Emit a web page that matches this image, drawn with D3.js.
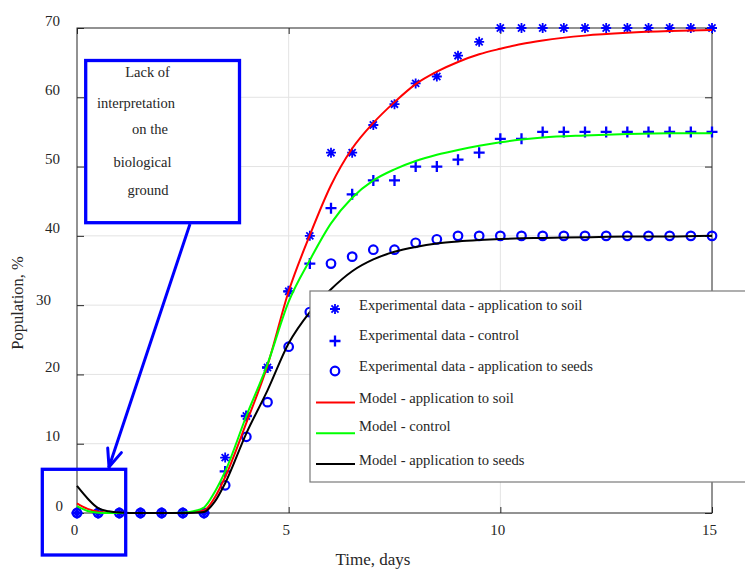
<!DOCTYPE html>
<html>
<head>
<meta charset="utf-8">
<script src="https://cdn.jsdelivr.net/npm/d3@7/dist/d3.min.js"></script>
<style>
  html, body { margin: 0; padding: 0; background: #fff; }
  svg { display: block; }
  text { font-family: "Liberation Serif", "Times New Roman", serif; fill: #262626; }
</style>
</head>
<body>
<svg id="chart" width="745" height="569"></svg>
<script>
// ---------- data ----------
const expDays = [0,0.5,1,1.5,2,2.5,3,3.5,4,4.5,5,5.5,6,6.5,7,7.5,8,8.5,9,9.5,10,10.5,11,11.5,12,12.5,13,13.5,14,14.5,15];
const expSoil    = [0,0,0,0,0,0,0, 8,14,21,32,40,52,52,56,59,62,63,66,68,70,70,70,70,70,70,70,70,70,70,70];
const expControl = [0,0,0,0,0,0,0, 6,14,21,32,36,44,46,48,48,50,50,51,52,54,54,55,55,55,55,55,55,55,55,55];
const expSeeds   = [0,0,0,0,0,0,0, 4,11,16,24,29,36,37,38,38,39,39.5,40,40,40,40,40,40,40,40,40,40,40,40,40];

const modelDays    = [0,0.25,0.5,0.75,1,1.5,2,2.5,2.75,3,3.25,3.5,4,4.5,5,5.5,6,6.5,7,7.5,8,8.5,9,9.5,10,10.5,11,12,13,14,15];
const modelSoil    = [1.4,0.6,0.2,0.05,0,0,0,0,0.1,0.35,2.2,5.2,13,21.3,32,40.1,47.3,52.6,56.3,59.3,61.9,63.7,65.1,66.2,67.0,67.7,68.2,68.9,69.3,69.55,69.7];
const modelControl = [1.0,0.3,0.05,0,0,0,0,0.05,0.25,0.8,3,6.0,14,21.5,30.5,36.5,41.8,45.5,48,49.6,50.8,51.7,52.4,53,53.5,53.9,54.2,54.5,54.7,54.8,54.8];
const modelSeeds   = [3.9,2.1,0.7,0.25,0.08,0,0,0,0.03,0.15,1.6,4.3,11.5,17.7,24.5,29,32.3,34.9,36.6,37.7,38.4,38.9,39.2,39.4,39.55,39.65,39.7,39.8,39.9,39.9,40];

const xTicks = [0,5,10,15];
const yTicks = [0,10,20,30,40,50,60,70];

const legendLabels = [
  "Experimental data - application to soil",
  "Experimental data - control",
  "Experimental data - application to seeds",
  "Model - application to soil",
  "Model - control",
  "Model - application to seeds"
];
const noteLines = ["Lack of", "interpretation", "on the", "biological", "ground"];

// ---------- layout ----------
const svg = d3.select("#chart");
const L = 77, T = 28, R = 712, B = 513;
const x = d3.scaleLinear().domain([0,15]).range([L,R]);
const y = d3.scaleLinear().domain([0,70]).range([B,T]);
const blue = "#0000ff";

// grid
const grid = svg.append("g");
grid.selectAll("line.gx").data(xTicks.filter(d => d > 0 && d < 15)).join("line")
  .attr("x1", d => x(d)).attr("x2", d => x(d)).attr("y1", T).attr("y2", B)
  .attr("stroke", "#e3e3e3").attr("stroke-width", 1);
grid.selectAll("line.gy").data(yTicks.filter(d => d > 0 && d < 70)).join("line")
  .attr("x1", L).attr("x2", R).attr("y1", d => y(d)).attr("y2", d => y(d))
  .attr("stroke", "#e3e3e3").attr("stroke-width", 1);

// axes via d3 axes (inner ticks)
const axCol = "#262626";
function styleAxis(g) {
  g.select(".domain").remove();
  g.selectAll(".tick line").attr("stroke", axCol);
  g.selectAll(".tick text").remove();
}
svg.append("g").attr("transform", `translate(0,${B})`)
  .call(d3.axisBottom(x).tickValues(xTicks).tickSize(-6)).call(styleAxis);
svg.append("g").attr("transform", `translate(0,${T})`)
  .call(d3.axisTop(x).tickValues(xTicks).tickSize(-6)).call(styleAxis);
svg.append("g").attr("transform", `translate(${L},0)`)
  .call(d3.axisLeft(y).tickValues(yTicks).tickSize(-7)).call(styleAxis);
svg.append("g").attr("transform", `translate(${R},0)`)
  .call(d3.axisRight(y).tickValues(yTicks).tickSize(-7)).call(styleAxis);

svg.append("rect").attr("x", L).attr("y", T).attr("width", R - L).attr("height", B - T)
  .attr("fill", "none").attr("stroke", axCol).attr("stroke-width", 1);

// tick labels
svg.append("g").selectAll("text").data(xTicks).join("text")
  .attr("x", d => x(d) - 2.5).attr("y", B + 22)
  .attr("text-anchor", "middle").attr("font-size", 15).text(d => d);
svg.append("g").selectAll("text").data(yTicks).join("text")
  .attr("x", d => d === 0 ? 63 : (d === 30 ? 51 : 60))
  .attr("y", d => y(d) - (d === 30 ? 0 : 2.5))
  .attr("text-anchor", "end").attr("font-size", 15).text(d => d);

// axis titles
svg.append("text").attr("x", 373).attr("y", 564.5).attr("text-anchor", "middle")
  .attr("font-size", 17).text("Time, days");
svg.append("text").attr("transform", "translate(23,303) rotate(-90)")
  .attr("text-anchor", "middle").attr("font-size", 16.5).text("Population, %");

// marker shapes
function starPath(r) {
  const d = r * 0.7071;
  return `M${-r},0L${r},0M0,${-r}L0,${r}M${-d},${-d}L${d},${d}M${-d},${d}L${d},${-d}`;
}
function plusPath(r) { return `M${-r},0L${r},0M0,${-r}L0,${r}`; }
function drawMarker(g, type, cx, cy) {
  if (type === "star") {
    g.append("path").attr("d", starPath(5)).attr("transform", `translate(${cx},${cy})`)
      .attr("fill", "none").attr("stroke", blue).attr("stroke-width", 1.8);
  } else if (type === "plus") {
    g.append("path").attr("d", plusPath(5.5)).attr("transform", `translate(${cx},${cy})`)
      .attr("fill", "none").attr("stroke", blue).attr("stroke-width", 2.3);
  } else {
    g.append("circle").attr("cx", cx).attr("cy", cy).attr("r", 4.3)
      .attr("fill", "none").attr("stroke", blue).attr("stroke-width", 2.2);
  }
}

// experimental markers
const mk = svg.append("g");
const expSeries = [["star", expSoil], ["plus", expControl], ["circle", expSeeds]];
expSeries.forEach(([type, vals]) => {
  vals.forEach((v, i) => drawMarker(mk, type, x(expDays[i]), y(v)));
});

// model curves
const line = d3.line().x((d, i) => x(modelDays[i])).y(d => y(d)).curve(d3.curveMonotoneX);
const models = [[modelSoil, "#ff0000"], [modelControl, "#00ff00"], [modelSeeds, "#000000"]];
models.forEach(([vals, col]) => {
  svg.append("path").attr("d", line(vals)).attr("fill", "none")
    .attr("stroke", col).attr("stroke-width", 2);
});

// legend
const lg = svg.append("g");
lg.append("rect").attr("x", 310).attr("y", 291).attr("width", 460).attr("height", 191)
  .attr("fill", "#fff").attr("stroke", "#7a7a7a").attr("stroke-width", 1.2);
const rowBase = [309.5, 339.5, 370.7, 402.5, 430.7, 465];
const rowMark = [309, 341, 371, 402.5, 433.3, 464];
const legendTypes = ["star", "plus", "circle"];
legendLabels.forEach((lab, i) => {
  lg.append("text").attr("x", 359).attr("y", rowBase[i]).attr("font-size", 14.6).text(lab);
  if (i < 3) drawMarker(lg, legendTypes[i], 335, rowMark[i]);
  else lg.append("line").attr("x1", 316).attr("x2", 355).attr("y1", rowMark[i]).attr("y2", rowMark[i])
    .attr("stroke", models[i - 3][1]).attr("stroke-width", 2);
});

// annotation
const an = svg.append("g");
an.append("rect").attr("x", 85.7).attr("y", 60.5).attr("width", 153.8).attr("height", 162.2)
  .attr("fill", "#fff").attr("stroke", blue).attr("stroke-width", 3.3);
const noteX = [147.5, 136, 150, 142.5, 148];
const noteY = [77, 108, 134, 166.5, 195];
noteLines.forEach((t, i) => {
  an.append("text").attr("x", noteX[i]).attr("y", noteY[i]).attr("text-anchor", "middle")
    .attr("font-size", 14.5).text(t);
});
// arrow
const ax0 = 190, ay0 = 224, ax1 = 109, ay1 = 467;
an.append("line").attr("x1", ax0).attr("y1", ay0).attr("x2", ax1).attr("y2", ay1)
  .attr("stroke", blue).attr("stroke-width", 3);
const ang = Math.atan2(ay0 - ay1, ax0 - ax1);
[-0.39, 0.39].forEach(da => {
  an.append("line").attr("x1", ax1).attr("y1", ay1)
    .attr("x2", ax1 + 19 * Math.cos(ang + da)).attr("y2", ay1 + 19 * Math.sin(ang + da))
    .attr("stroke", blue).attr("stroke-width", 3).attr("stroke-linecap", "round");
});
an.append("rect").attr("x", 42.3).attr("y", 469.3).attr("width", 83.4).attr("height", 85.7)
  .attr("fill", "none").attr("stroke", blue).attr("stroke-width", 3.3);
</script>
</body>
</html>
